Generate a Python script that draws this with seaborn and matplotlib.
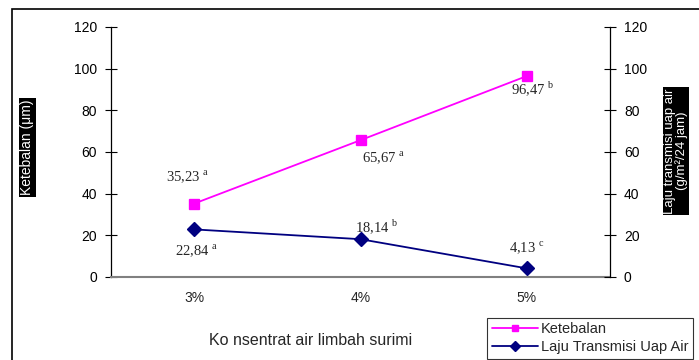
import matplotlib
matplotlib.use("Agg")
import matplotlib.pyplot as plt
import seaborn as sns
import pandas as pd
from matplotlib.patches import Rectangle
from matplotlib.lines import Line2D

# data
konsentrasi = ["3%", "4%", "5%"]
ketebalan = [35.23, 65.67, 96.47]
laju = [22.84, 18.14, 4.13]
notasi_ketebalan = ["a", "a", "b"]
notasi_laju = ["a", "b", "c"]
series_names = ["Ketebalan", "Laju Transmisi Uap Air"]

df = pd.DataFrame({
    "x": konsentrasi * 2,
    "y": ketebalan + laju,
    "seri": [series_names[0]] * 3 + [series_names[1]] * 3,
})

sns.set_theme(style="white")
plt.rcParams["font.family"] = ["Liberation Sans", "DejaVu Sans"]
plt.rcParams["mathtext.fontset"] = "custom"
plt.rcParams["mathtext.rm"] = "Liberation Serif"

fig = plt.figure(figsize=(6.99, 3.6), dpi=100)
ax = fig.add_axes([0.1588, 0.2306, 0.7139, 0.6944])

colors = ["#FF00FF", "#000080"]
sns.pointplot(data=df, x="x", y="y", hue="seri", palette=colors,
              markers=["s", "D"], linestyles=["-", "-"], ax=ax,
              markersize=7.5, linewidth=1.3, legend=False)

ax.set_xlim(-0.5, 2.5)
ax.set_ylim(0, 120)
ax.set_yticks(range(0, 121, 20))
ax.set_xlabel("")
ax.set_ylabel("")
ax.tick_params(axis="y", direction="inout", length=8, width=0.8,
               labelsize=10, pad=6, colors="black")
ax.tick_params(axis="x", which="major", length=0, labelsize=10, pad=10)
ax.set_xticks([0.5, 1.5], minor=True)
ax.tick_params(axis="x", which="minor", direction="inout", length=8, width=0.8)
for s in ["top", "right"]:
    ax.spines[s].set_visible(False)
ax.spines["left"].set_color("black")
ax.spines["left"].set_linewidth(0.9)
ax.spines["bottom"].set_color("#808080")
ax.spines["bottom"].set_linewidth(1.5)

ax2 = ax.twinx()
ax2.set_ylim(0, 120)
ax2.set_yticks(range(0, 121, 20))
ax2.tick_params(axis="y", direction="inout", length=8, width=0.8,
                labelsize=10, pad=6, colors="black")
for s in ["top", "left", "bottom"]:
    ax2.spines[s].set_visible(False)
ax2.spines["right"].set_color("black")
ax2.spines["right"].set_linewidth(0.9)

# value labels with significance letters
off_k = [(-7, 26), (23, -18), (6, -13)]
off_l = [(2, -22), (16, 13), (0, 20)]
for i in range(3):
    ax.annotate(f"{ketebalan[i]:.2f}".replace(".", ",") + r" $^{\mathrm{" + notasi_ketebalan[i] + "}}$",
                (i, ketebalan[i]), xytext=off_k[i], textcoords="offset pixels",
                ha="center", va="center", fontsize=10.5, family="Liberation Serif")
    ax.annotate(f"{laju[i]:.2f}".replace(".", ",") + r" $^{\mathrm{" + notasi_laju[i] + "}}$",
                (i, laju[i]), xytext=off_l[i], textcoords="offset pixels",
                ha="center", va="center", fontsize=10.5, family="Liberation Serif")

fig.text(0.039, 0.59, "Ketebalan (μm)", rotation=90, ha="center", va="center",
         color="white", fontsize=10,
         bbox=dict(facecolor="black", edgecolor="none", pad=1))
fig.text(0.967, 0.58, "Laju transmisi uap air\n(g/m²/24 jam)", rotation=90,
         ha="center", va="center", color="white", fontsize=9.5, linespacing=0.9,
         bbox=dict(facecolor="black", edgecolor="none", pad=1))

fig.text(0.445, 0.055, "Ko nsentrat air limbah surimi", ha="center", va="center",
         fontsize=11.5)

handles = [Line2D([], [], color=colors[0], marker="s", markersize=5, lw=1.3),
           Line2D([], [], color=colors[1], marker="D", markersize=5, lw=1.3)]
leg = fig.legend(handles, series_names, loc="upper left",
                 bbox_to_anchor=(0.697, 0.118), fontsize=10.5, frameon=True,
                 fancybox=False, edgecolor="black", handlelength=3.2,
                 borderpad=0.3, labelspacing=0.3, handletextpad=0.2,
                 borderaxespad=0)
leg.get_frame().set_linewidth(0.8)

# outer chart-area border
fig.patches.append(Rectangle((12 / 699, -0.1), 1.2, 1 - 9 / 360 + 0.1,
                             transform=fig.transFigure, fill=False,
                             edgecolor="black", linewidth=1.2))

fig.savefig("out.png", dpi=100)
